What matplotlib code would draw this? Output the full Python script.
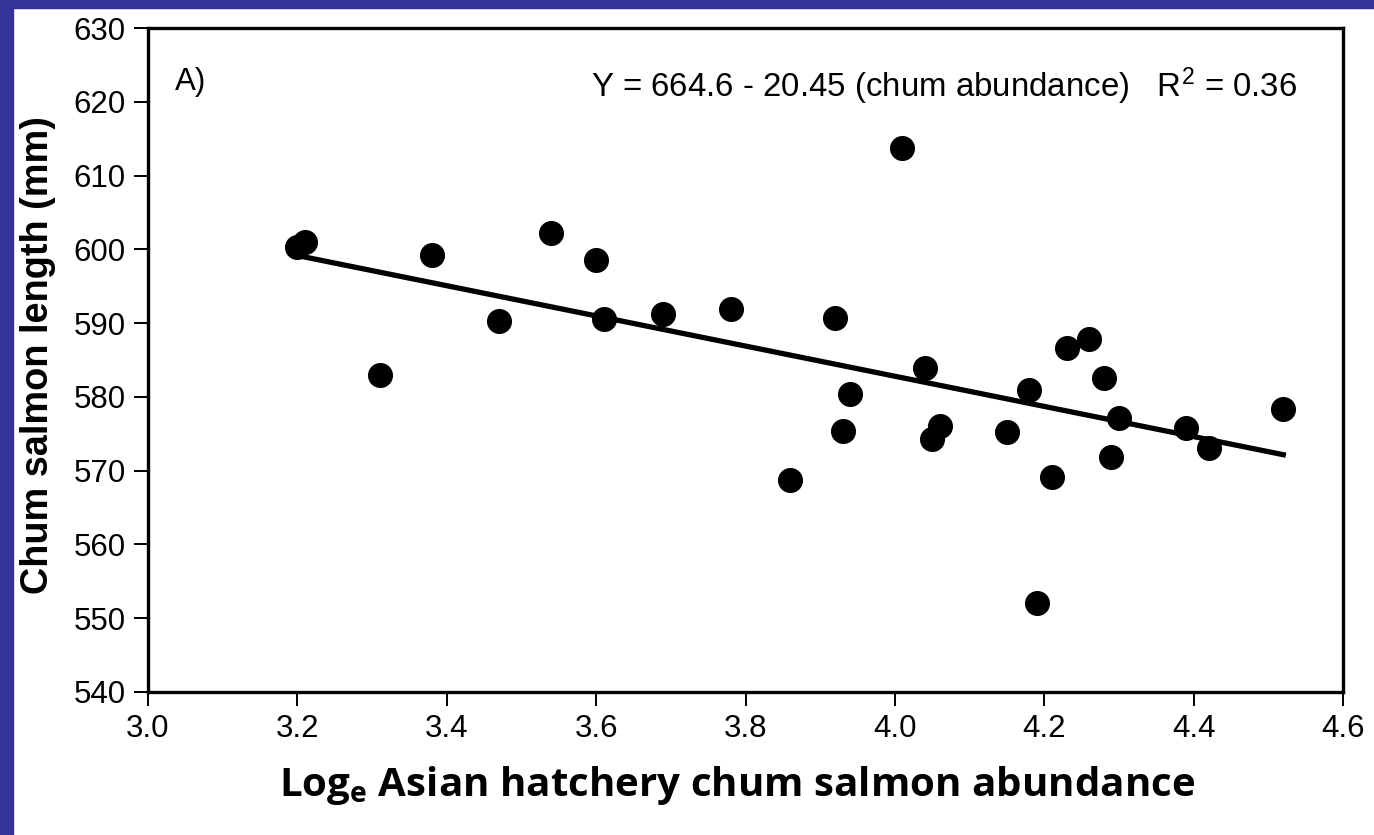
import numpy as np
import matplotlib.pyplot as plt
from matplotlib.patches import Rectangle

plt.rcParams['font.family'] = ['Liberation Sans', 'DejaVu Sans']
plt.rcParams['mathtext.fontset'] = 'custom'
plt.rcParams['mathtext.rm'] = 'Liberation Sans'
plt.rcParams['mathtext.bf'] = 'Open Sans:bold'
plt.rcParams['mathtext.default'] = 'regular'

# log abundance vs. mean length
abundance = [3.20, 3.21, 3.31, 3.38, 3.47, 3.54, 3.60, 3.61, 3.69, 3.78,
             3.86, 3.92, 3.93, 3.94, 4.01, 4.04, 4.05, 4.06, 4.15, 4.18,
             4.19, 4.21, 4.23, 4.26, 4.28, 4.29, 4.30, 4.39, 4.42, 4.52]
length = [600.3, 601.0, 583.0, 599.2, 590.3, 602.2, 598.5, 590.6, 591.2, 591.9,
          568.8, 590.7, 575.4, 580.4, 613.8, 583.9, 574.3, 576.0, 575.3, 581.0,
          552.0, 569.2, 586.6, 587.8, 582.5, 571.9, 577.1, 575.8, 573.1, 578.4]

intercept = 664.6
slope = -20.45
r2 = 0.36

xticks = [3.0, 3.2, 3.4, 3.6, 3.8, 4.0, 4.2, 4.4, 4.6]
yticks = [540, 550, 560, 570, 580, 590, 600, 610, 620, 630]

fig = plt.figure(figsize=(13.74, 8.35), dpi=100)
fig.patch.set_facecolor('white')
# dark blue frame strips on top and left
fig.patches.append(Rectangle((0, 1 - 8 / 835), 1, 8 / 835, transform=fig.transFigure,
                             color='#333399', zorder=0))
fig.patches.append(Rectangle((0, 0), 13 / 1374, 1, transform=fig.transFigure,
                             color='#333399', zorder=0))

ax = fig.add_axes([148 / 1374, 1 - 692 / 835, (1343 - 148) / 1374, (692 - 28) / 835])

ax.scatter(abundance, length, s=290, color='black', zorder=3)

xs = np.array([min(abundance), max(abundance)])
ax.plot(xs, intercept + slope * xs, color='black', lw=3.8, zorder=2)

ax.set_xlim(3.0, 4.6)
ax.set_ylim(540, 630)
ax.set_xticks(xticks)
ax.set_xticklabels([f'{t:.1f}' for t in xticks])
ax.set_yticks(yticks)
for s in ax.spines.values():
    s.set_linewidth(2.4)
ax.tick_params(axis='both', direction='out', length=10, width=1.4, labelsize=22.5, pad=6)
ax.tick_params(axis='x', pad=6)

ax.text(0.0226, 0.9066, 'A)', transform=ax.transAxes, fontsize=22.5, va='baseline')
ax.text(0.9615, 0.896, f'Y = {intercept} - {abs(slope)} (chum abundance)   R$^2$ = {r2}',
        transform=ax.transAxes, fontsize=23.8, va='baseline', ha='right')

ax.set_xlabel(r'Log$_\mathbf{e}$ Asian hatchery chum salmon abundance',
              fontsize=29, fontweight='bold', family='Open Sans')
ax.xaxis.set_label_coords(0.493, -0.108)
ax.set_ylabel('Chum salmon length (mm)', fontsize=27.3, fontweight='bold')
ax.yaxis.set_label_coords(-0.077, 0.5075)

fig.savefig('out.png', dpi=100)
